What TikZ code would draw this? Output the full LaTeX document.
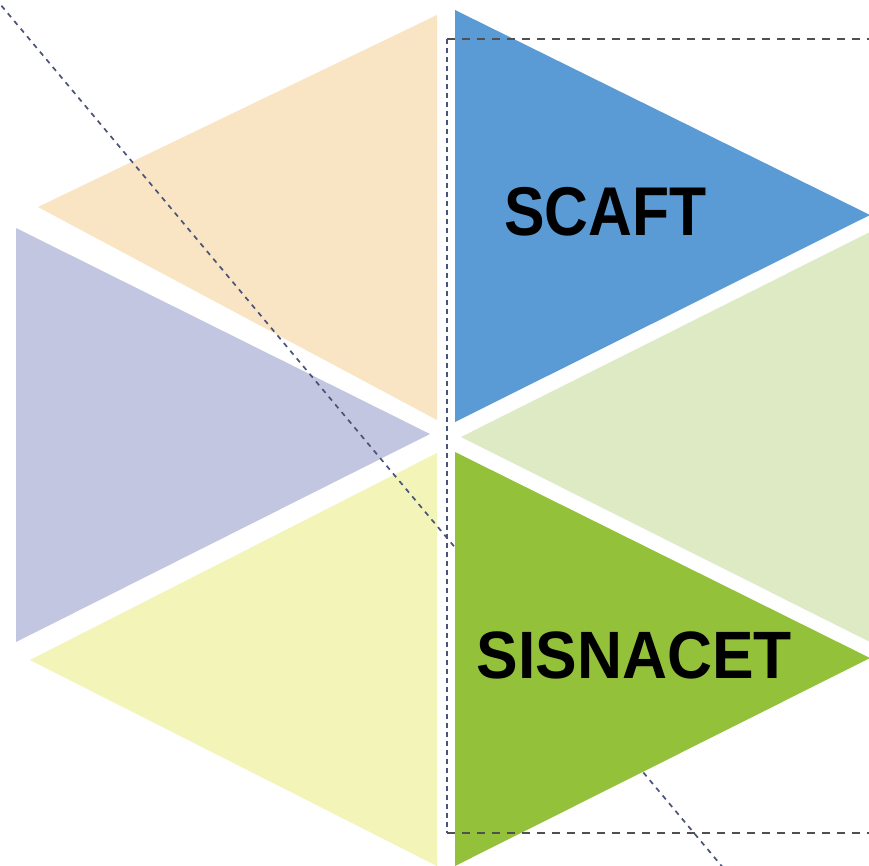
\documentclass[tikz,border=0pt]{standalone}
\usepackage{fontspec}
\usepackage{graphicx}
\setmainfont{Liberation Sans}
\definecolor{cBlue}{HTML}{5B9BD5}
\definecolor{cDkGreen}{HTML}{93C13A}
\definecolor{cLtGreen}{HTML}{DEEAC4}
\definecolor{cTan}{HTML}{F9E5C4}
\definecolor{cLav}{HTML}{C3C6E0}
\definecolor{cYel}{HTML}{F2F4B8}
\definecolor{cDiag}{HTML}{4A5478}
\definecolor{cFrame}{HTML}{505050}
\begin{document}
\begin{tikzpicture}[x=1pt,y=-1pt,
  guide/.style={cDiag, line width=1.7pt, dash pattern=on 5pt off 5pt},
  framebar/.style={cFrame, line width=1.7pt, dash pattern=on 8pt off 7pt},
  framevert/.style={cDiag, line width=1.7pt, dash pattern=on 4.5pt off 4.5pt},
  lbl/.style={font=\bfseries, inner sep=0pt, anchor=base, text=black}]
\useasboundingbox (0,0) rectangle (869,865);
\clip (0,0) rectangle (869,865);
\fill[white] (0,0) rectangle (869,865);
% left triangles
\fill[cTan] (437,15) -- (38,207) -- (437,420) -- cycle;
\fill[cLav] (16,228) -- (16,642) -- (430,434) -- cycle;
\fill[cYel] (437,453) -- (30,660) -- (437,866) -- cycle;
% right triangles
\fill[cBlue] (455,10) -- (455,422) -- (870,215) -- cycle;
\fill[cLtGreen] (461,437) -- (880,227) -- (880,647) -- cycle;
% diagonal guide
\coordinate (d1) at (-5,-2);
\coordinate (d2) at (730,876);
\draw[guide] (d1) -- (d2);
\fill[cDkGreen] (455,452) -- (455,866) -- (870,658) -- cycle;
% dashed frame
\coordinate (ftl) at (447,39);
\coordinate (ftr) at (880,39);
\coordinate (fbl) at (447,833);
\coordinate (fbr) at (880,833);
\draw[framebar] (ftl) -- (ftr);
\draw[framebar] (fbl) -- (fbr);
\draw[framevert] (ftl) -- (fbl);
% labels
\node[lbl] (scaft) at (605.5,235) {\fontsize{69}{69}\selectfont\scalebox{0.88}[1]{SCAFT}};
\node[lbl] (sisnacet) at (634.5,678) {\fontsize{67}{67}\selectfont\scalebox{0.93}[1]{SISNACET}};
\end{tikzpicture}
\end{document}
